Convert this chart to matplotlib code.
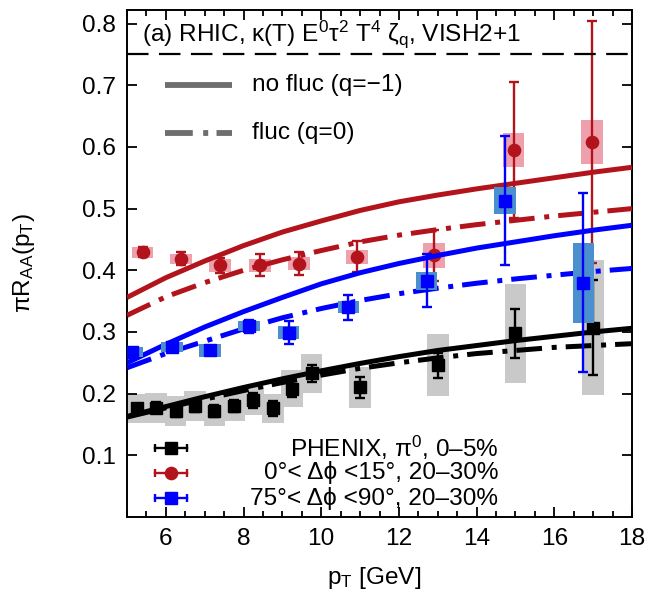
import matplotlib
matplotlib.use("Agg")
import matplotlib.pyplot as plt
import numpy as np

plt.rcParams["font.family"] = ["Liberation Sans", "DejaVu Sans"]
plt.rcParams["mathtext.fontset"] = "custom"
plt.rcParams["mathtext.rm"] = "Liberation Sans"
plt.rcParams["mathtext.it"] = "Liberation Sans:italic"
plt.rcParams["mathtext.default"] = "regular"
plt.rcParams["lines.scale_dashes"] = False

# ---------------- data ----------------
# PHENIX pi0, 0-5%
phenix_pt = [5.25, 5.75, 6.25, 6.75, 7.25, 7.75, 8.25, 8.75, 9.25, 9.75, 11.0, 13.0, 15.0, 17.0]
phenix_raa = [0.176, 0.177, 0.172, 0.180, 0.172, 0.180, 0.189, 0.176, 0.208, 0.233, 0.210, 0.246, 0.298, 0.307]
phenix_stat = [0.008, 0.009, 0.010, 0.010, 0.010, 0.010, 0.012, 0.012, 0.014, 0.014, 0.017, 0.020, 0.040, 0.077]
phenix_sys = [0.024, 0.024, 0.024, 0.024, 0.024, 0.024, 0.024, 0.024, 0.030, 0.032, 0.033, 0.050, 0.080, 0.110]

# 0 < dphi < 15 deg, 20-30%
inplane_pt = [5.40, 6.39, 7.40, 8.43, 9.42, 10.92, 12.90, 14.95, 16.97]
inplane_raa = [0.429, 0.419, 0.408, 0.408, 0.411, 0.422, 0.424, 0.595, 0.608]
inplane_stat = [0.008, 0.010, 0.012, 0.018, 0.018, 0.025, 0.042, 0.110, 0.196]
inplane_sys = [0.009, 0.008, 0.010, 0.010, 0.010, 0.011, 0.020, 0.027, 0.035]

# 75 < dphi < 90 deg, 20-30%
outplane_pt = [5.14, 6.15, 7.14, 8.15, 9.16, 10.70, 12.71, 14.73, 16.75]
outplane_raa = [0.267, 0.275, 0.270, 0.309, 0.299, 0.340, 0.383, 0.513, 0.380]
outplane_stat = [0.005, 0.006, 0.006, 0.010, 0.018, 0.020, 0.043, 0.105, 0.145]
outplane_sys = [0.008, 0.008, 0.010, 0.008, 0.010, 0.010, 0.015, 0.022, 0.065]

# model curves
curve_pt = [5, 6, 7, 8, 9, 10, 11, 12, 13, 14, 15, 16, 17, 18]
central_nofluc = [0.163, 0.179, 0.195, 0.210, 0.224, 0.237, 0.249, 0.260, 0.270, 0.278, 0.286, 0.293, 0.300, 0.306]
central_fluc = [0.162, 0.177, 0.191, 0.205, 0.218, 0.230, 0.241, 0.250, 0.258, 0.265, 0.270, 0.275, 0.278, 0.281]
inplane_nofluc = [0.356, 0.388, 0.415, 0.440, 0.462, 0.480, 0.497, 0.511, 0.522, 0.532, 0.541, 0.550, 0.559, 0.567]
inplane_fluc = [0.327, 0.357, 0.380, 0.400, 0.417, 0.432, 0.446, 0.457, 0.466, 0.474, 0.481, 0.488, 0.494, 0.500]
outplane_nofluc = [0.250, 0.280, 0.308, 0.333, 0.356, 0.378, 0.396, 0.411, 0.424, 0.436, 0.446, 0.456, 0.465, 0.473]
outplane_fluc = [0.242, 0.265, 0.285, 0.305, 0.323, 0.338, 0.351, 0.362, 0.371, 0.379, 0.386, 0.392, 0.398, 0.403]

upper_bound = 0.75

# ---------------- style ----------------
C_BLACK = "#000000"
C_RED = "#b3141c"
C_BLUE = "#0000ff"
C_GRAY_BOX = "#c9c9c9"
C_RED_BOX = "#eea1ad"
C_BLUE_BOX = "#4b8fce"
C_KEY = "#6e6e6e"
FS = 17.6
DASHDOT = (0, (18.5, 7.0, 3.6, 6.5))
CURVE_LW = 3.6
BOX_W = 0.56

fig = plt.figure(figsize=(6.5, 5.92), dpi=100)
ax = fig.add_axes([127 / 650, 1 - 517 / 592, 505 / 650, 507 / 592])


def draw_series(pt, val, stat, sys, color, box_color, marker, z):
    pt = np.asarray(pt)
    val = np.asarray(val)
    sys = np.asarray(sys)
    ax.bar(pt, 2 * sys, bottom=val - sys, width=BOX_W, color=box_color,
           linewidth=0, zorder=z)
    ax.errorbar(pt, val, yerr=stat, fmt=marker, color=color, ms=8.8,
                elinewidth=1.7, capsize=3.6, capthick=1.7, zorder=z + 0.5)


draw_series(phenix_pt, phenix_raa, phenix_stat, phenix_sys, C_BLACK, C_GRAY_BOX, "s", 1)
draw_series(inplane_pt, inplane_raa, inplane_stat, inplane_sys, C_RED, C_RED_BOX, "o", 2)

# model curves
for y, c in [(central_nofluc, C_BLACK), (inplane_nofluc, C_RED), (outplane_nofluc, C_BLUE)]:
    ax.plot(curve_pt, y, color=c, lw=CURVE_LW, solid_capstyle="butt", zorder=3)
for y, c in [(central_fluc, C_BLACK), (inplane_fluc, C_RED), (outplane_fluc, C_BLUE)]:
    ax.plot(curve_pt, y, color=c, lw=CURVE_LW, linestyle=DASHDOT, zorder=3)

draw_series(outplane_pt, outplane_raa, outplane_stat, outplane_sys, C_BLUE, C_BLUE_BOX, "s", 4)

ax.axhline(upper_bound, color="black", lw=1.6, linestyle=(0, (15.5, 7.5)), zorder=5)

# axes
ax.set_xlim(5, 18)
ax.set_ylim(0, 0.822)
ax.set_xticks([6, 8, 10, 12, 14, 16, 18])
ax.set_xticks(np.arange(5, 18.01, 0.5), minor=True)
ax.set_yticks([0.1, 0.2, 0.3, 0.4, 0.5, 0.6, 0.7, 0.8])
ax.set_yticklabels(["0.1", "0.2", "0.3", "0.4", "0.5", "0.6", "0.7", "0.8"])
ax.tick_params(which="both", direction="in", top=True, right=True, width=1.3,
               labelsize=FS)
ax.tick_params(which="major", length=7, pad=8)
ax.tick_params(which="minor", length=4)
for s in ax.spines.values():
    s.set_linewidth(1.4)

ax.set_xlabel("p$_T$ [GeV]", fontsize=FS)
ax.xaxis.set_label_coords(0.49, -0.095)
ax.set_ylabel(r"$\pi$R$_{AA}$(p$_T$)", fontsize=FS)
ax.yaxis.set_label_coords(-0.178, 0.5)

ax.text(0.03, 0.952, "(a) RHIC, κ(T) E$^0$τ$^2$ T$^4$ ζ$_q$, VISH2+1",
        transform=ax.transAxes, fontsize=FS, va="center", ha="left")

# model key
ax.plot([0.075, 0.208], [0.852, 0.852], transform=ax.transAxes, color=C_KEY,
        lw=4.2, solid_capstyle="butt")
ax.plot([0.075, 0.208], [0.757, 0.757], transform=ax.transAxes, color=C_KEY,
        lw=4.2, linestyle=(0, (20, 7.5, 3.6, 6.0)))
ax.text(0.248, 0.852, "no fluc (q=−1)", transform=ax.transAxes, fontsize=FS,
        va="center")
ax.text(0.248, 0.757, "fluc (q=0)", transform=ax.transAxes, fontsize=FS,
        va="center")

# data key
key_rows = [
    ("PHENIX, π$^0$, 0–5%", C_BLACK, "s", 0.136),
    ("0°< Δϕ <15°, 20–30%", C_RED, "o", 0.087),
    ("75°< Δϕ <90°, 20–30%", C_BLUE, "s", 0.037),
]
for label, c, m, yk in key_rows:
    ax.plot([0.056, 0.118], [yk, yk], transform=ax.transAxes, color=c, lw=1.7,
            zorder=6, clip_on=False)
    ax.plot([0.056, 0.118], [yk, yk], transform=ax.transAxes, color=c, lw=0,
            marker="|", ms=6, mew=1.7, zorder=6, clip_on=False)
    ax.plot([0.087], [yk], transform=ax.transAxes, color=c, marker=m, ms=8.8,
            zorder=6, clip_on=False)
    ax.text(0.735, yk, label, transform=ax.transAxes, fontsize=FS,
            va="center", ha="right")

fig.savefig("out.png", dpi=100)
